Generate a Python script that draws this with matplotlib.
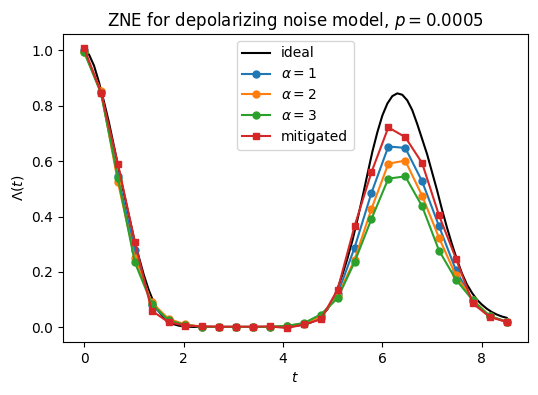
import matplotlib
matplotlib.use("Agg")
import matplotlib.pyplot as plt
import numpy as np

# sampled times of the noisy simulations
t_points = [0.00, 0.34, 0.68, 1.02, 1.36, 1.70, 2.04, 2.38, 2.72, 3.06, 3.40, 3.74, 4.08,
            4.42, 4.76, 5.10, 5.44, 5.78, 6.12, 6.46, 6.80, 7.14, 7.48, 7.82, 8.16, 8.50]

alpha1 = [1.000, 0.850, 0.545, 0.278, 0.080, 0.025, 0.008, 0.002, 0.001, 0.001, 0.001, 0.001, 0.004,
          0.012, 0.035, 0.120, 0.287, 0.485, 0.653, 0.648, 0.527, 0.365, 0.206, 0.095, 0.040, 0.020]
alpha2 = [0.995, 0.855, 0.525, 0.250, 0.090, 0.030, 0.010, 0.002, 0.001, 0.001, 0.001, 0.001, 0.005,
          0.013, 0.038, 0.112, 0.244, 0.427, 0.591, 0.602, 0.475, 0.323, 0.187, 0.100, 0.040, 0.020]
alpha3 = [0.995, 0.845, 0.540, 0.235, 0.085, 0.025, 0.008, 0.001, 0.001, 0.001, 0.001, 0.001, 0.005,
          0.015, 0.046, 0.105, 0.235, 0.391, 0.537, 0.545, 0.437, 0.277, 0.172, 0.097, 0.040, 0.020]
mitigated = [1.009, 0.848, 0.590, 0.309, 0.060, 0.018, 0.006, 0.003, 0.002, 0.002, 0.002, 0.003, -0.003,
             0.010, 0.028, 0.136, 0.365, 0.560, 0.722, 0.687, 0.593, 0.404, 0.248, 0.086, 0.037, 0.019]

# exact curve, read every 0.1
t_ideal = [round(0.1 * i, 1) for i in range(86)]
ideal = [1.000, 0.985, 0.945, 0.885, 0.815, 0.740, 0.655, 0.570, 0.485, 0.405,
         0.325, 0.255, 0.190, 0.135, 0.090, 0.058, 0.035, 0.020, 0.011, 0.006,
         0.003, 0.002, 0.001, 0.001, 0.001, 0.001, 0.001, 0.001, 0.001, 0.001,
         0.001, 0.001, 0.001, 0.001, 0.001, 0.001, 0.001, 0.001, 0.001, 0.002,
         0.002, 0.003, 0.004, 0.006, 0.009, 0.013, 0.020, 0.030, 0.045, 0.066,
         0.097, 0.140, 0.192, 0.250, 0.315, 0.390, 0.470, 0.553, 0.635, 0.705,
         0.765, 0.808, 0.835, 0.845, 0.840, 0.820, 0.785, 0.735, 0.680, 0.625,
         0.560, 0.495, 0.425, 0.360, 0.300, 0.245, 0.195, 0.155, 0.125, 0.100,
         0.082, 0.067, 0.055, 0.046, 0.039, 0.034]

fig = plt.figure(figsize=(5.38, 3.95), dpi=100)
ax = fig.add_axes([0.117, 0.134, 0.864, 0.780])

ax.plot(t_ideal, ideal, color='k', label='ideal')
ax.plot(t_points, alpha1, marker='o', markersize=5, label=r'$\alpha = 1$')
ax.plot(t_points, alpha2, marker='o', markersize=5, label=r'$\alpha = 2$')
ax.plot(t_points, alpha3, marker='o', markersize=5, label=r'$\alpha = 3$')
ax.plot(t_points, mitigated, marker='s', markersize=5, label='mitigated')

ax.set_xlabel(r'$t$')
ax.set_ylabel(r'$\Lambda(t)$')
ax.set_title(r'ZNE for depolarizing noise model, $p = 0.0005$')
ax.legend(loc='upper center')

fig.savefig('out.png', dpi=100)
